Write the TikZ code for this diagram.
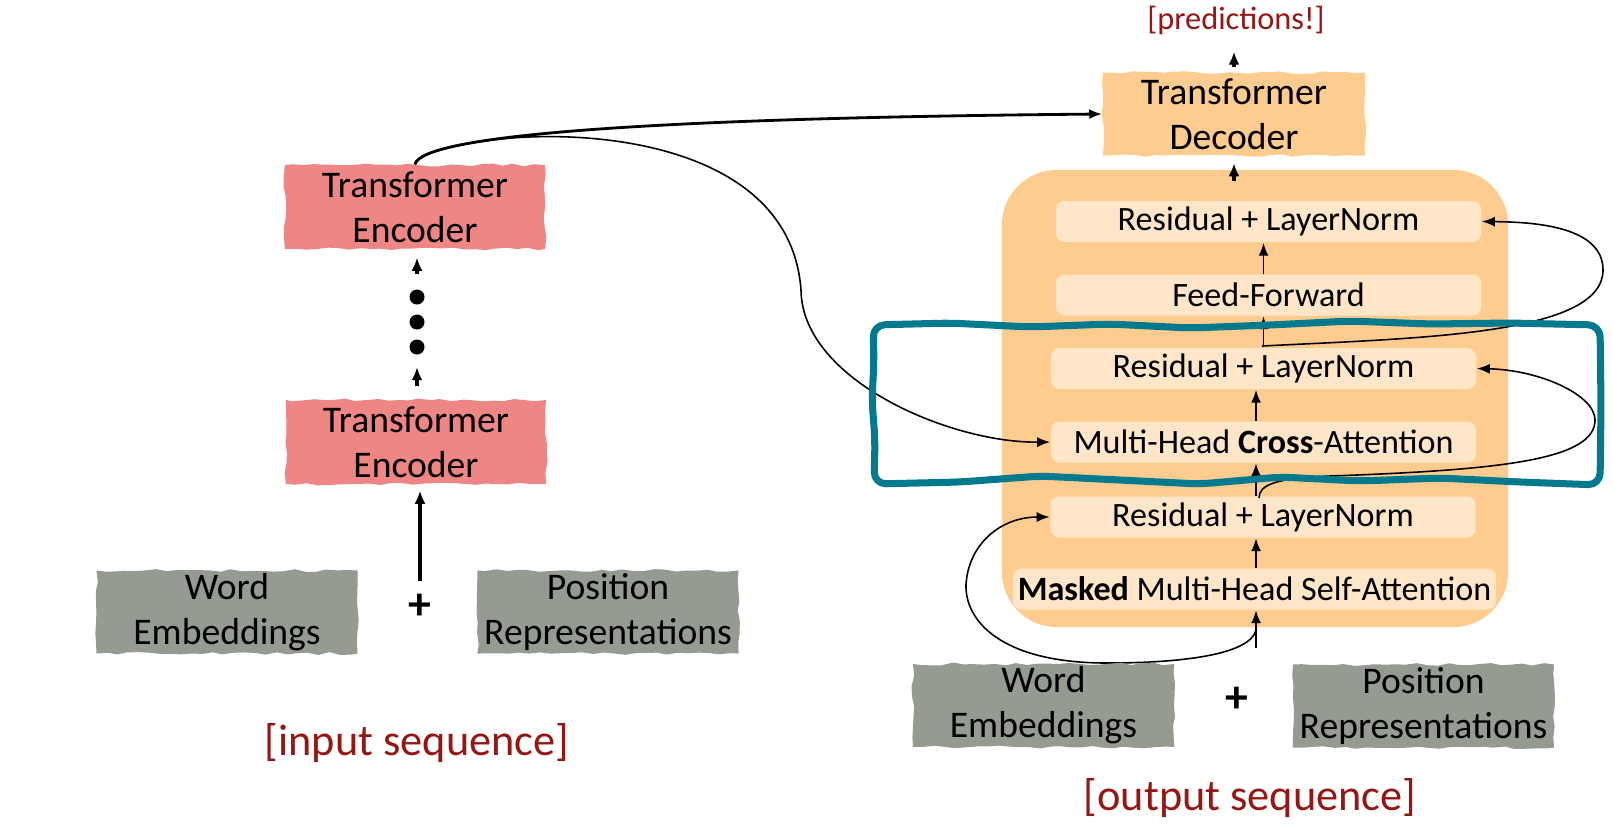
\documentclass[tikz,border=0pt]{standalone}
\usepackage{fontspec}
\setmainfont{Carlito}
\usetikzlibrary{arrows.meta,decorations.pathmorphing}

\definecolor{encpink}{RGB}{239,134,134}
\definecolor{embgray}{RGB}{150,155,146}
\definecolor{decorange}{RGB}{255,204,143}
\definecolor{sublayer}{RGB}{255,230,200}
\definecolor{framecol}{RGB}{0,122,140}
\definecolor{seqred}{RGB}{150,22,20}

\tikzset{
  brush/.style={decorate, decoration={random steps, segment length=3pt, amplitude=0.4pt}},
  blockbox/.style={brush, inner sep=0pt, align=center,
    font=\fontsize{10.7}{12.8}\selectfont},
  encbox/.style={blockbox, fill=encpink, minimum width=2.6cm, minimum height=0.84cm},
  decbox/.style={blockbox, fill=decorange, minimum width=2.62cm, minimum height=0.83cm},
  embbox/.style={blockbox, fill=embgray, minimum width=2.61cm, minimum height=0.83cm},
  sublayerbox/.style={fill=sublayer, rounded corners=2.5pt, inner sep=0pt,
    minimum width=4.25cm, minimum height=0.41cm, font=\fontsize{9.7}{11}\selectfont},
  seqlabel/.style={text=seqred, font=\fontsize{12.6}{14}\selectfont},
  plussign/.style={font=\bfseries\fontsize{13}{14}\selectfont},
  flow/.style={-{Latex[length=1.3mm,width=1mm]}, line width=0.55pt},
  thickflow/.style={-{Latex[length=1.3mm,width=1.1mm]}, line width=0.9pt},
  residual/.style={-{Latex[length=1.3mm,width=1mm]}, line width=0.45pt},
}

\begin{document}
\begin{tikzpicture}[x=0.01cm,y=-0.01cm]
  \useasboundingbox (0,0) rectangle (1613,826);
  \pgfmathsetseed{7}

            % encoder stack
            \node[encbox] (enctop) at (415,207) {Transformer\\Encoder};
            \node[encbox] (encbot) at (416,442) {Transformer\\Encoder};

            \foreach \y [count=\i] in {297,322,347}{
              \node[circle, fill=black, inner sep=0pt, minimum size=0.15cm] (dot\i) at (417,\y) {};
            }
            \draw[thickflow, shorten <=0.15cm, shorten >=0.08cm] (dot1) -- (enctop.south -| dot1);
            \draw[thickflow, shorten <=0.13cm, shorten >=0.12cm] (encbot.north -| dot3) -- (dot3);

            \node[embbox] (wordL) at (227,612) {Word\\Embeddings};
            \node[embbox] (posL) at (608,612) {Position\\Representations};
            \node[plussign] (plusL) at (420,607) {+};
            \coordinate (encin) at (420,581);
            \draw[thickflow, shorten >=0.06cm] (encin) -- (encbot.south -| encin);

            \node[seqlabel] (inseq) at (417,743) {[input sequence]};

            % decoder stack
            \node[fill=decorange, rounded corners=0.55cm, minimum width=5.06cm,
              minimum height=4.57cm] (decblock) at (1255,398.5) {};

            \node[decbox] (dec) at (1234,114) {Transformer\\Decoder};
            \node[text=seqred, font=\fontsize{9.2}{10}\selectfont] (pred) at (1236,20) {[predictions!]};
            \draw[thickflow, shorten <=0.05cm, shorten >=0.05cm] (dec.north) -- (pred.south -| dec);
            \draw[thickflow, shorten <=0.12cm, shorten >=0.07cm] (decblock.north -| dec) -- (dec.south);

            \node[sublayerbox] (norm3) at (1268.5,221.5) {Residual + LayerNorm};
            \node[sublayerbox] (ffn) at (1268.5,295) {Feed-Forward};
            \node[sublayerbox] (norm2) at (1263.5,368.5) {Residual + LayerNorm};
            \node[sublayerbox] (cross) at (1263.5,442) {Multi-Head \textbf{Cross}-Attention};
            \node[sublayerbox] (norm1) at (1263,517) {Residual + LayerNorm};
            \node[sublayerbox, minimum width=4.83cm] (selfatt) at (1254.5,589) {\textbf{Masked} Multi-Head Self-Attention};

            \coordinate (decin) at (1256,648);
            \draw[flow] (ffn.north -| norm2) -- (norm3.south -| norm2);
            \draw[flow] (norm2.north) -- (ffn.south -| norm2);
            \draw[flow] (cross.north -| decin) -- (norm2.south -| decin);
            \draw[flow] (norm1.north -| decin) -- (cross.south -| decin);
            \draw[flow] (selfatt.north -| decin) -- (norm1.south -| decin);
            \draw[flow] (decin) -- (selfatt.south -| decin);

            % residual connections
            \coordinate (skipffn) at (1262,346);
            \coordinate (skipcross) at (1259,498);
            \coordinate (skipself) at (1256,630);
            \draw[residual] (skipffn) .. controls (1420,338) and (1603,335) .. (1603,270)
              .. controls (1603,225) and (1530,222) .. (norm3.east);
            \draw[residual] (skipcross) .. controls (1259,485) and (1275,478) .. (1330,476)
              .. controls (1500,470) and (1595,460) .. (1595,420)
              .. controls (1595,395) and (1540,370) .. (norm2.east);
            \draw[residual] (skipself) .. controls (1250,655) and (1180,663) .. (1107,663)
              .. controls (1000,663) and (965,620) .. (966,585)
              .. controls (968,545) and (1000,517) .. (norm1.west);

            % encoder output into the decoder
            \draw[residual, line width=0.8pt] (enctop.north) .. controls (422,135) and (650,118) .. (dec.west);
            \draw[residual] (enctop.north) .. controls (417,156) and (439,148) .. (481,141.5)
              .. controls (580,126) and (790,140) .. (801,290)
              .. controls (802,380) and (950,443) .. (cross.west);

            \node[embbox] (wordR) at (1043.5,705.5) {Word\\Embeddings};
            \node[embbox] (posR) at (1423.5,706) {Position\\Representations};
            \node[plussign] (plusR) at (1237,700) {+};
            \node[seqlabel] (outseq) at (1250,798) {[output sequence]};

            \draw[framecol, line width=2pt, line join=round, rounded corners=1.2mm]
              (873,325) -- (950,323) -- (1030,327) -- (1110,324) -- (1190,328) -- (1270,325)
              -- (1350,321) -- (1430,324) -- (1510,323) -- (1600,325) -- (1601,405) -- (1600,485)
              -- (1520,482) -- (1440,478) -- (1360,481) -- (1280,477) -- (1200,484) -- (1120,480)
              -- (1040,476) -- (960,482) -- (874,484) -- (875,440) -- (872,400) -- (874,360) -- cycle;
\end{tikzpicture}
\end{document}
